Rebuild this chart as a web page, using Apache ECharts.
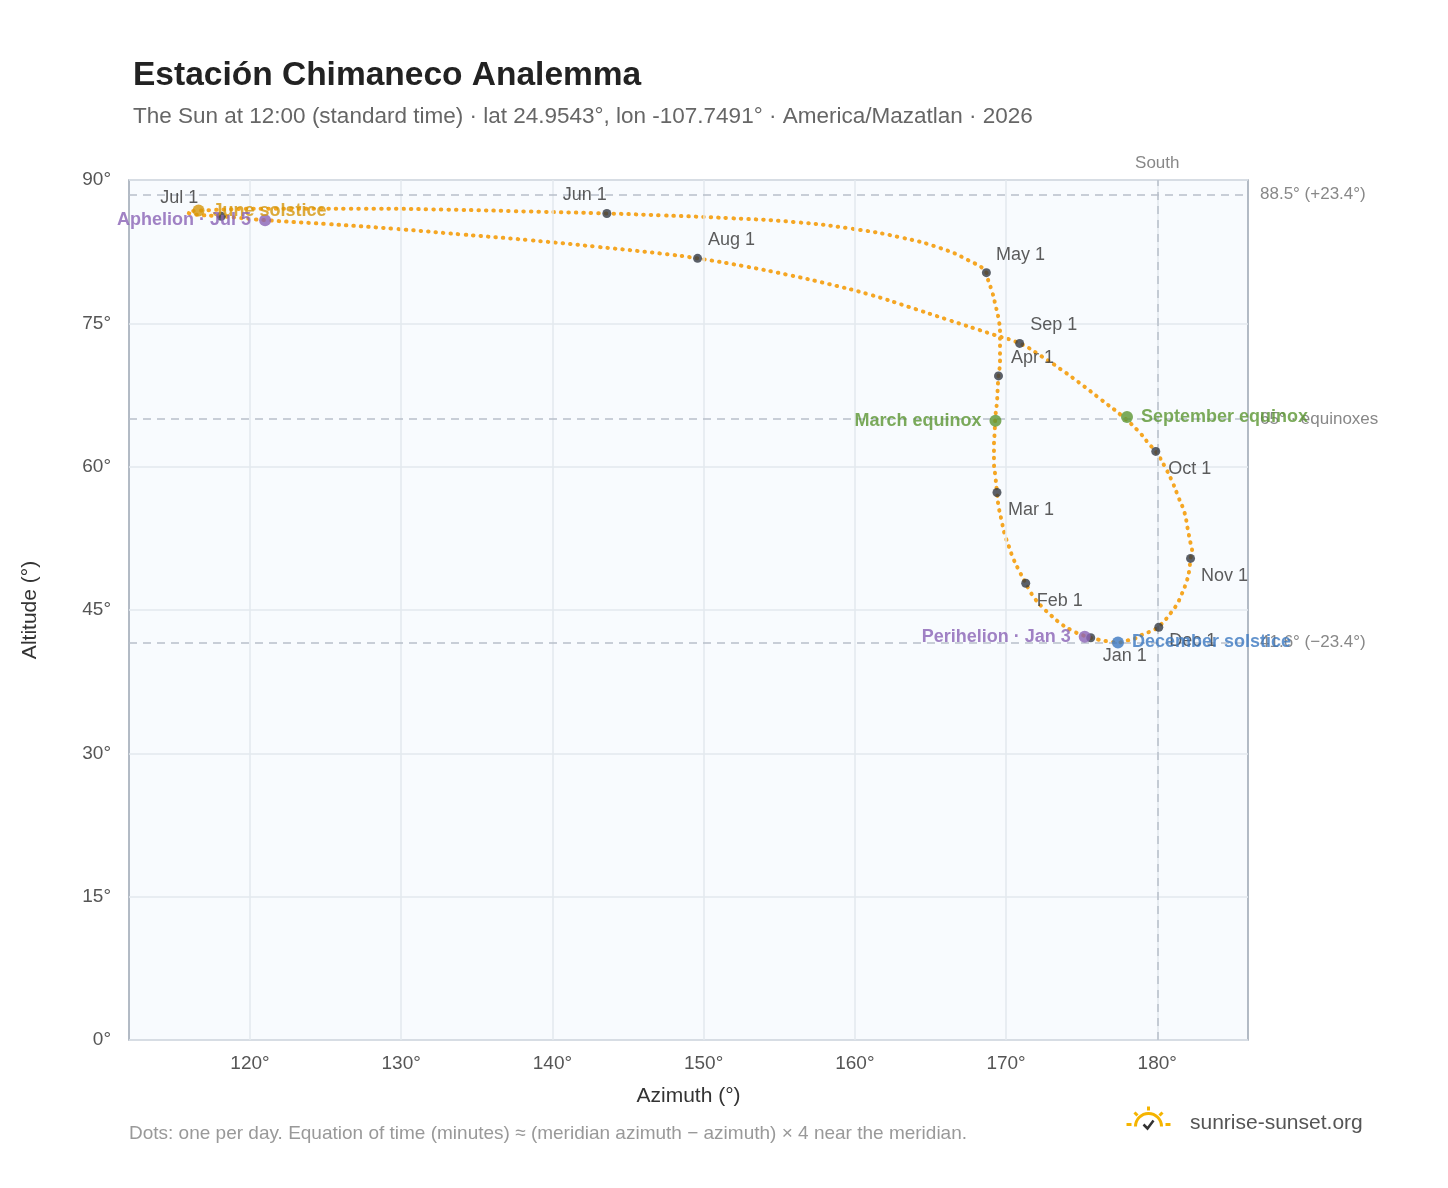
<!DOCTYPE html>
<html><head><meta charset="utf-8">
<script src="https://cdn.jsdelivr.net/npm/echarts@6/dist/echarts.min.js"></script>
<style>html,body{margin:0;padding:0;background:#fff}#c{width:1448px;height:1188px}</style>
</head><body><div id="c"></div>
<script>
// Daily sun path, sampled roughly every 4 days: [azimuth, altitude]
const pathAz = [175.6,175.0,174.3,173.6,173.0,172.4,171.9,171.5,171.3,170.9,170.5,170.2,169.9,169.7,169.5,169.4,169.3,169.2,169.2,169.25,169.3,169.4,169.45,169.5,169.6,169.6,169.6,169.5,169.3,169.1,168.8,168.7,167.5,165.6,163.0,159.8,156.0,151.8,147.2,143.6,138.5,133.0,127.5,122.0,116.6,115.9,116.3,118.1,121.0,125.0,129.5,134.0,138.5,143.0,147.2,149.6,152.6,155.5,158.3,161.0,163.6,166.1,169.2,170.9,172.3,173.7,175.0,176.3,177.6,178.7,179.5,179.9,180.5,181.0,181.4,181.8,182.0,182.2,182.3,182.2,182.1,181.9,181.6,181.3,180.9,180.5,180.2,180.1,179.6,179.0,178.5,178.0,177.4,176.8,176.1,175.8,175.6];
const pathAlt = [42.1,42.4,42.9,43.6,44.4,45.3,46.2,47.2,47.8,49.0,50.3,51.6,53.0,54.4,55.9,57.3,58.9,60.5,62.1,63.7,65.3,66.8,68.3,69.5,71.0,72.5,74.0,75.5,76.9,78.2,79.6,80.3,81.6,82.9,84.0,84.9,85.6,86.0,86.3,86.5,86.7,86.9,87.0,87.0,86.8,86.6,86.4,86.2,85.8,85.4,84.9,84.3,83.7,83.0,82.3,81.8,81.0,80.1,79.1,78.0,76.7,75.4,73.8,72.9,71.6,70.1,68.6,67.0,65.4,63.8,62.3,61.6,60.0,58.4,56.8,55.2,53.6,52.0,51.2,50.4,49.0,47.8,46.6,45.6,44.7,43.9,43.4,43.2,42.8,42.4,42.0,41.8,41.6,41.7,41.9,42.0,42.1];
const monthNames = ['Jan 1','Feb 1','Mar 1','Apr 1','May 1','Jun 1','Jul 1','Aug 1','Sep 1','Oct 1','Nov 1','Dec 1'];
const monthAz =  [175.6,171.3,169.4,169.5,168.7,143.6,118.1,149.6,170.9,179.9,182.2,180.1];
const monthAlt = [42.1,47.8,57.3,69.5,80.3,86.5,86.2,81.8,72.9,61.6,50.4,43.2];
const monthLabelOffset = [[16,18],[16,18],[16,18],[16,-18],[16,-18],[-40,-18],[-60,-18],[16,-18],[16,-18],[16,18],[16,18],[16,14]];
const eventNames = ['March equinox','September equinox','June solstice','December solstice','Perihelion · Jan 3','Aphelion · Jul 5'];
const eventAz =  [169.3,178.0,116.6,177.4,175.2,121.0];
const eventAlt = [64.8,65.2,86.8,41.6,42.2,85.8];
const eventColor = ['#5b9632','#5b9632','#d4960a','#3b78c0','#8a63b5','#8a63b5'];
const eventLabelPos = ['left','right','right','right','left','left'];
const xTicks = [120,130,140,150,160,170,180];
const refAlt = [88.5,65,41.6];
const refLabels = ['88.5° (+23.4°)','65° · equinoxes','41.6° (−23.4°)'];

const chart = echarts.init(document.getElementById('c'));
const font = 'Helvetica, Arial, "Liberation Sans", sans-serif';
chart.setOption({
  animation:false,
  textStyle:{fontFamily:font},
  title:{text:'Estación Chimaneco Analemma',left:128,top:54,
    textStyle:{fontSize:33.5,fontWeight:'bold',color:'#222'},
    subtext:'The Sun at 12:00 (standard time) · lat 24.9543°, lon -107.7491° · America/Mazatlan · 2026',
    subtextStyle:{fontSize:22.5,color:'#666'},itemGap:12},
  grid:{left:129,right:200,top:180,bottom:148,show:true,backgroundColor:'#f8fbfe',borderColor:'#9aa5b3',borderWidth:1.5},
  xAxis:{type:'value',min:112,max:186,name:'Azimuth (°)',nameLocation:'middle',nameGap:46,
    nameTextStyle:{fontSize:21,color:'#333'},
    axisLine:{show:false},axisTick:{show:false},
    axisLabel:{customValues:xTicks,formatter:v=>v+'°',fontSize:19,color:'#555',margin:14},
    splitLine:{show:false}},
  yAxis:{type:'value',min:0,max:90,interval:15,name:'Altitude (°)',nameLocation:'middle',nameGap:88,
    nameTextStyle:{fontSize:21,color:'#333'},
    axisLine:{show:false},axisTick:{show:false},
    axisLabel:{formatter:v=>v+'°',fontSize:19,color:'#555',margin:18},
    splitLine:{lineStyle:{color:'#e3e8ee',width:1.5}}},
  series:[
    {type:'line',data:xTicks.map(v=>[v,0]),symbol:'none',lineStyle:{opacity:0},silent:true,
     markLine:{symbol:'none',silent:true,label:{show:false},lineStyle:{color:'#e3e8ee',type:'solid',width:1.5},
       data:xTicks.map(v=>({xAxis:v}))}},
    {type:'line',data:[],symbol:'none',silent:true,
     markLine:{symbol:'none',silent:true,lineStyle:{color:'#b8c0ca',type:[8,6],width:1.5},
       label:{position:'end',fontSize:17,color:'#888',distance:12},
       data:[
         ...refAlt.map((v,i)=>({yAxis:v,label:{formatter:refLabels[i]}})),
         {xAxis:180,label:{formatter:'South',position:'end',distance:8}}
       ]}},
    {type:'line',data:pathAz.map((a,i)=>[a,pathAlt[i]]),smooth:0.5,symbol:'none',z:3,silent:true,
     lineStyle:{color:'#f5a623',width:4,type:[0.5,7],cap:'round'}},
    {type:'scatter',z:5,symbolSize:9,itemStyle:{color:'#333a44'},
     data:monthAz.map((a,i)=>({value:[a,monthAlt[i]],
       label:{show:true,formatter:monthNames[i],position:'inside',offset:[monthLabelOffset[i][0]+18,monthLabelOffset[i][1]],fontSize:18,color:'#333'}}))},
    {type:'scatter',z:6,symbolSize:12,
     data:eventAz.map((a,i)=>({value:[a,eventAlt[i]],itemStyle:{color:eventColor[i]},
       label:{show:true,formatter:eventNames[i],position:eventLabelPos[i],distance:8,fontSize:18,fontWeight:'bold',color:eventColor[i]}}))}
  ],
  graphic:[
    {type:'text',left:129,top:1124,style:{text:'Dots: one per day. Equation of time (minutes) ≈ (meridian azimuth − azimuth) × 4 near the meridian.',fill:'#999',font:'19px '+font}},
    {type:'text',left:1190,top:1113,style:{text:'sunrise-sunset.org',fill:'#555',font:'21px '+font}},
    {type:'group',left:1124,top:1104,children:[
      {type:'arc',shape:{cx:24,cy:24,r:13,startAngle:Math.PI,endAngle:2*Math.PI},style:{stroke:'#f5b400',lineWidth:3,fill:'none'}},
      {type:'line',shape:{x1:24,y1:4,x2:24,y2:8},style:{stroke:'#f5b400',lineWidth:3}},
      {type:'line',shape:{x1:10,y1:10,x2:13,y2:13},style:{stroke:'#f5b400',lineWidth:3}},
      {type:'line',shape:{x1:38,y1:10,x2:35,y2:13},style:{stroke:'#f5b400',lineWidth:3}},
      {type:'line',shape:{x1:2,y1:22,x2:7,y2:22},style:{stroke:'#f5b400',lineWidth:3}},
      {type:'line',shape:{x1:41,y1:22,x2:46,y2:22},style:{stroke:'#f5b400',lineWidth:3}},
      {type:'polyline',shape:{points:[[19,22],[23,26],[29,18]]},style:{stroke:'#333',lineWidth:2.5,fill:'none'}}
    ]}
  ]
});
</script></body></html>
